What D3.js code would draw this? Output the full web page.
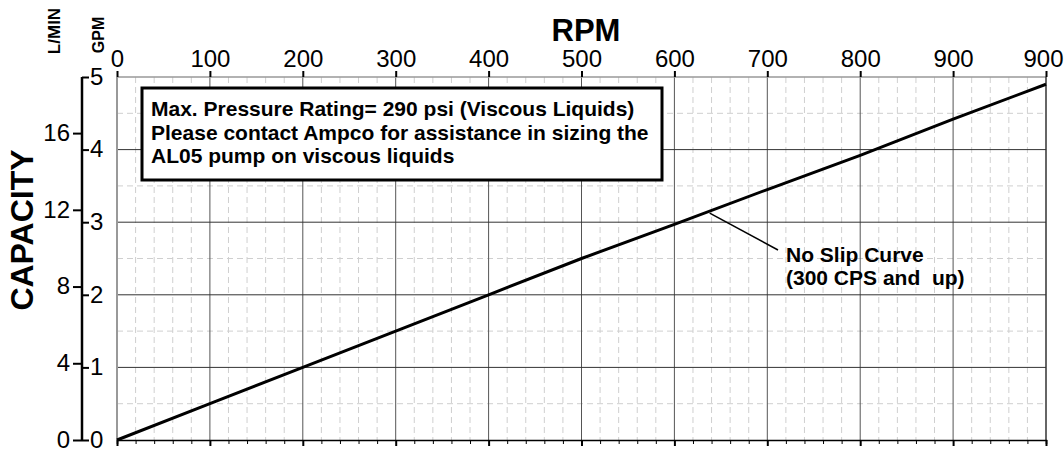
<!DOCTYPE html>
<html>
<head>
<meta charset="utf-8">
<script src="https://cdn.jsdelivr.net/npm/d3@7"></script>
<style>
  html, body { margin: 0; padding: 0; background: #fff; }
  svg { display: block; font-family: "Liberation Sans", Arial, sans-serif; }
</style>
</head>
<body>
<div id="chart"></div>
<script>
// Curve data
const rpm = [0, 100, 200, 300, 400, 500, 600, 700, 800, 900, 1000];
const gpm = [0, 0.5, 1.0, 1.5, 2.0, 2.5, 2.97, 3.45, 3.92, 4.42, 4.9];

// Axis ticks
const rpmTicks = [0, 100, 200, 300, 400, 500, 600, 700, 800, 900, 1000];
const rpmLabels = ["0", "100", "200", "300", "400", "500", "600", "700", "800", "900", "900"];
const gpmTicks = [0, 1, 2, 3, 4, 5];
const lminTicks = [0, 4, 8, 12, 16];
const noteLines = [
    "Max. Pressure Rating= 290 psi (Viscous Liquids)",
    "Please contact Ampco for assistance in sizing the",
    "AL05 pump on viscous liquids"
];
const calloutLines = ["No Slip Curve", "(300 CPS and  up)"];
const calloutRpm = 638;

const W = 1064, H = 451;
const svg = d3.select("#chart").append("svg")
    .attr("width", W)
    .attr("height", H);

const x = d3.scaleLinear().domain([0, 1000]).range([117, 1046]);
const y = d3.scaleLinear().domain([0, 5]).range([440, 77]);
const yL = d3.scaleLinear().domain([0, 5 * 3.785]).range([440, 77]);

// minor grid (dashed)
const grid = svg.append("g");
grid.selectAll("line.vmin")
    .data(d3.range(20, 1000, 20).filter(v => v % 100 !== 0))
    .enter().append("line")
    .attr("x1", d => x(d)).attr("x2", d => x(d))
    .attr("y1", y(5)).attr("y2", y(0))
    .attr("stroke", "#cfcfcf")
    .attr("stroke-dasharray", "6,4");
grid.selectAll("line.hmin")
    .data([0.5, 1.5, 2.5, 3.5, 4.5])
    .enter().append("line")
    .attr("x1", x(0)).attr("x2", x(1000))
    .attr("y1", d => y(d)).attr("y2", d => y(d))
    .attr("stroke", "#cfcfcf")
    .attr("stroke-dasharray", "6,4");

// major grid
grid.selectAll("line.vmaj")
    .data(rpmTicks.slice(1, -1))
    .enter().append("line")
    .attr("x1", d => x(d)).attr("x2", d => x(d))
    .attr("y1", y(5)).attr("y2", y(0))
    .attr("stroke", "#555")
    .attr("stroke-width", 1);
grid.selectAll("line.hmaj")
    .data(gpmTicks.slice(1, -1))
    .enter().append("line")
    .attr("x1", x(0)).attr("x2", x(1000))
    .attr("y1", d => y(d)).attr("y2", d => y(d))
    .attr("stroke", "#333")
    .attr("stroke-width", 1);

// frame
svg.append("line").attr("x1", x(0)).attr("x2", x(1000)).attr("y1", y(5)).attr("y2", y(5))
    .attr("stroke", "#999").attr("stroke-width", 1.5);
svg.append("line").attr("x1", x(0)).attr("x2", x(0)).attr("y1", y(5)).attr("y2", y(0))
    .attr("stroke", "#999").attr("stroke-width", 2);
svg.append("line").attr("x1", x(1000)).attr("x2", x(1000)).attr("y1", y(5)).attr("y2", y(0))
    .attr("stroke", "#333").attr("stroke-width", 1.5);

// bottom axis: ticks only
const bottomAxis = svg.append("g")
    .attr("transform", `translate(0,${y(0)})`)
    .call(d3.axisBottom(x).tickValues(d3.range(0, 1001, 20)).tickSize(4).tickFormat(""));
bottomAxis.select(".domain").attr("stroke", "#000").attr("stroke-width", 1.5);
bottomAxis.selectAll(".tick line")
    .attr("stroke", "#000")
    .attr("y2", d => d % 100 === 0 ? 6 : 4)
    .attr("stroke-width", d => d % 100 === 0 ? 2 : 1);

// top axis with RPM labels
const topAxis = svg.append("g")
    .attr("transform", `translate(0,${y(5)})`)
    .call(d3.axisTop(x).tickValues(rpmTicks).tickSize(6).tickPadding(4)
        .tickFormat((d, i) => rpmLabels[i]));
topAxis.select(".domain").remove();
topAxis.selectAll(".tick line").attr("stroke", "#000").attr("stroke-width", 2);
topAxis.selectAll(".tick text")
    .attr("fill", "#000")
    .attr("dx", d => d === 1000 ? -3 : 0)
    .style("font-size", "24px")
    .style("font-family", "'Liberation Sans', Arial, sans-serif");

svg.append("text")
    .attr("x", 586).attr("y", 41)
    .attr("text-anchor", "middle")
    .style("font-size", "31px").style("font-weight", "bold")
    .text("RPM");

// L/MIN axis (left side of the shared line)
const axisX = 82;
const lminAxis = svg.append("g")
    .attr("transform", `translate(${axisX},0)`)
    .call(d3.axisLeft(yL).tickValues(lminTicks).tickSize(9).tickPadding(3)
        .tickFormat(d3.format("d")));
lminAxis.select(".domain").attr("stroke", "#000").attr("stroke-width", 2.5)
    .attr("d", `M0,${y(0)}V${y(5)}`);
lminAxis.selectAll(".tick line").attr("stroke", "#000").attr("stroke-width", 2);
lminAxis.selectAll(".tick text")
    .attr("fill", "#000")
    .attr("dy", "0.3em")
    .style("font-size", "24px")
    .style("font-family", "'Liberation Sans', Arial, sans-serif");

// GPM axis (right side of the shared line)
const gpmAxis = svg.append("g")
    .attr("transform", `translate(${axisX},0)`)
    .call(d3.axisRight(y).tickValues(gpmTicks).tickSize(7).tickPadding(1)
        .tickFormat(d3.format("d")));
gpmAxis.select(".domain").remove();
gpmAxis.selectAll(".tick line").attr("stroke", "#000").attr("stroke-width", 2);
gpmAxis.selectAll(".tick text")
    .attr("fill", "#000")
    .attr("dy", "0.3em")
    .style("font-size", "24px")
    .style("font-family", "'Liberation Sans', Arial, sans-serif");

// axis titles
svg.append("text")
    .attr("transform", "translate(33,230) rotate(-90)")
    .attr("text-anchor", "middle")
    .style("font-size", "32px").style("font-weight", "bold")
    .text("CAPACITY");
svg.append("text")
    .attr("transform", "translate(60,31) rotate(-90)")
    .attr("text-anchor", "middle")
    .style("font-size", "17px").style("font-weight", "bold")
    .text("L/MIN");
svg.append("text")
    .attr("transform", "translate(104,35) rotate(-90)")
    .attr("text-anchor", "middle")
    .style("font-size", "16px").style("font-weight", "bold")
    .text("GPM");

// curve
const line = d3.line().x((d, i) => x(rpm[i])).y(d => y(d));
svg.append("path")
    .datum(gpm)
    .attr("fill", "none")
    .attr("stroke", "#000")
    .attr("stroke-width", 3)
    .attr("d", line);

// note box
const note = svg.append("g");
note.append("rect")
    .attr("x", 142).attr("y", 88)
    .attr("width", 520).attr("height", 92)
    .attr("fill", "#fff")
    .attr("stroke", "#000")
    .attr("stroke-width", 3);
note.selectAll("text")
    .data(noteLines)
    .enter().append("text")
    .attr("x", 151)
    .attr("y", (d, i) => 116 + i * 23.5)
    .style("font-size", "21px").style("font-weight", "bold")
    .text(d => d);

// callout
const gAt = d3.scaleLinear().domain(rpm).range(gpm);
svg.append("line")
    .attr("x1", x(calloutRpm)).attr("y1", y(gAt(calloutRpm)) + 2)
    .attr("x2", 778).attr("y2", 250)
    .attr("stroke", "#000").attr("stroke-width", 1.5);
svg.selectAll("text.callout")
    .data(calloutLines)
    .enter().append("text")
    .attr("class", "callout")
    .attr("x", 786)
    .attr("y", (d, i) => 262 + i * 23)
    .style("font-size", "21px").style("font-weight", "bold")
    .style("white-space", "pre")
    .text(d => d);
</script>
</body>
</html>
